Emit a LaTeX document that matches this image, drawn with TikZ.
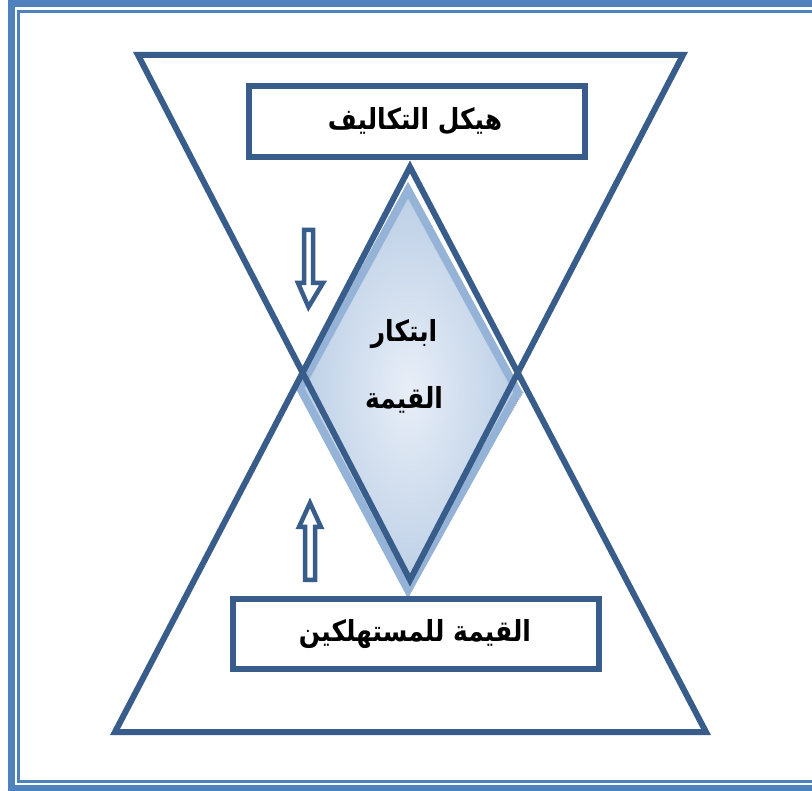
\documentclass[tikz,border=0pt]{standalone}
\usepackage{fontspec}
\usepackage{graphicx}
\TeXXeTstate=1
\newfontfamily\arabicfont[Script=Arabic]{DejaVu Sans}
\definecolor{dkblue}{HTML}{385D8A}
\definecolor{bdblue}{HTML}{4F81BD}
\definecolor{ltblue}{HTML}{95B3D7}
\definecolor{fillin}{HTML}{E8EEF7}
\definecolor{fillout}{HTML}{BCCFE6}
\newcommand{\artext}[1]{\scalebox{0.86}[1]{\beginR #1\endR}}
\tikzset{
  tri/.style={draw=dkblue, line width=6, line join=miter},
  box/.style={draw=dkblue, line width=6, fill=white, line join=miter},
  hollowarrow/.style={draw=dkblue, line width=4.5, fill=white, line join=miter},
  label/.style={font=\arabicfont\bfseries\fontsize{29}{34}\selectfont, text=black, inner sep=0pt}
}
\begin{document}
\begin{tikzpicture}[x=1pt,y=-1pt]
\useasboundingbox (0,0) rectangle (812,791);
\fill[white] (0,0) rectangle (812,791);
% page border
\draw[bdblue, line width=7] (11.5,3.5) rectangle (830,788.5);
\draw[bdblue, line width=3] (18.5,11.5) rectangle (830,781);
% light diamond
\coordinate (dT) at (408,190);
\coordinate (dR) at (518,392);
\coordinate (dB) at (408,590);
\coordinate (dL) at (300,388);
\draw[gray!60, line width=1.5, densely dotted] ([xshift=5pt]dR) -- ([yshift=6pt]dB);
\shade[inner color=fillin, outer color=fillout] (dT) -- (dR) -- (dB) -- (dL) -- cycle;
\draw[ltblue, line width=8, line join=miter] (dT) -- (dR) -- (dB) -- (dL) -- cycle;
% triangles
\coordinate (uTL) at (138,55);
\coordinate (uTR) at (683,55);
\coordinate (uA) at (410,580);
\coordinate (lBL) at (115,732);
\coordinate (lBR) at (706,732);
\coordinate (lA) at (410,167);
\draw[tri] (uTL) -- (uTR) -- (uA) -- cycle;
\draw[tri] (lBL) -- (lBR) -- (lA) -- cycle;
% boxes
\node[box, minimum width=336, minimum height=71, inner sep=0pt] (top) at (417,121.5) {};
\node[label] at (415,121) {\artext{هيكل التكاليف}};
\node[box, minimum width=366, minimum height=70, inner sep=0pt] (bot) at (416,634) {};
\node[label] at (415,634) {\artext{القيمة للمستهلكين}};
% diamond text
\node[label] (t1) at (404,334) {\artext{ابتكار}};
\node[label] (t2) at (404,400) {\artext{القيمة}};
% arrows
\draw[hollowarrow] (304,230) -- (313,230) -- (313,283) -- (323,283) -- (308.5,307) -- (298,283) -- (304,283) -- cycle;
\draw[hollowarrow] (305,580) -- (315,580) -- (315,527) -- (321,527) -- (310,503) -- (299,527) -- (305,527) -- cycle;
\end{tikzpicture}
\end{document}
